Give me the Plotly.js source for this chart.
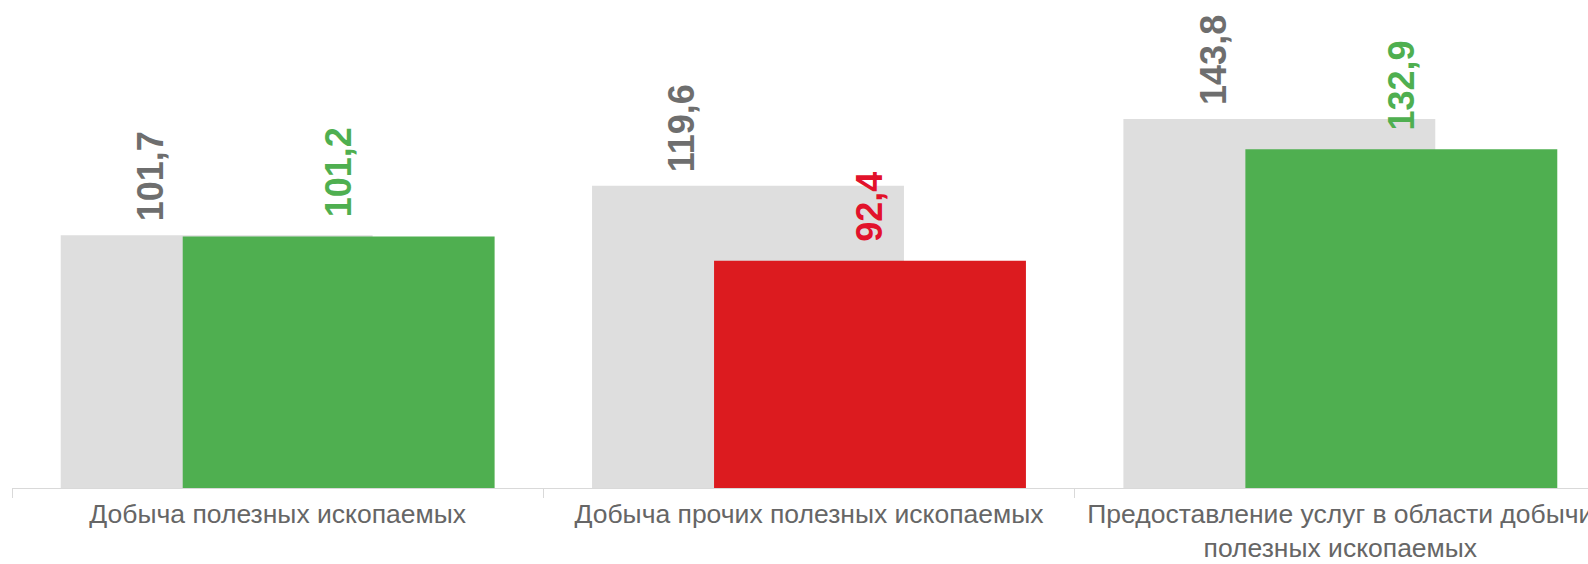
<!DOCTYPE html>
<html>
<head>
<meta charset="utf-8">
<script src="https://cdn.plot.ly/plotly-3.0.1.min.js"></script>
<style>
html,body{margin:0;padding:0;overflow:hidden;background:#fff;}
#chart{width:1620px;height:564px;}
</style>
</head>
<body>
<div id="chart"></div>
<script>
const categories = [
  "Добыча полезных ископаемых",
  "Добыча прочих полезных ископаемых",
  "Предоставление услуг в области добычи<br>полезных ископаемых"
];
const prevValues = [101.7, 119.6, 143.8];
const currValues = [101.2, 92.4, 132.9];

const GRAY_BAR = "#dedede";
const GRAY_TEXT = "#6e6e6e";
const GREEN = "#4faf50";
const RED = "#dc1b1f";
const RED_TEXT = "#e2122b";

const idx = categories.map((c, i) => i);
const barW = 0.587;
const shift = 0.1148;

const fmt = v => v.toFixed(1).replace('.', ',');
const currColor = v => v >= 100 ? GREEN : RED;
const currTextColor = v => v >= 100 ? GREEN : RED_TEXT;

const traces = [
  {
    type: 'bar', x: idx, y: prevValues,
    width: barW, offset: -shift - barW / 2,
    marker: {color: GRAY_BAR},
    hoverinfo: 'skip'
  },
  {
    type: 'bar', x: idx, y: currValues,
    width: barW, offset: shift - barW / 2,
    marker: {color: currValues.map(currColor)},
    hoverinfo: 'skip'
  }
];

const annotations = [];
prevValues.forEach((v, i) => {
  annotations.push({
    xref: 'x', yref: 'y', x: i - 0.24, y: v,
    text: fmt(v), textangle: -90, showarrow: false,
    xanchor: 'center', yanchor: 'bottom', yshift: 12,
    font: {family: 'Liberation Sans, Arial, sans-serif', size: 36, color: GRAY_TEXT, weight: 'bold'}
  });
});
currValues.forEach((v, i) => {
  annotations.push({
    xref: 'x', yref: 'y', x: i + shift, y: v,
    text: fmt(v), textangle: -90, showarrow: false,
    xanchor: 'center', yanchor: 'bottom', yshift: 17,
    font: {family: 'Liberation Sans, Arial, sans-serif', size: 36, color: currTextColor(v), weight: 'bold'}
  });
});

const layout = {
  width: 1620, height: 564,
  margin: {l: 12, r: 13.5, t: 0, b: 76},
  paper_bgcolor: '#fff', plot_bgcolor: '#fff',
  barmode: 'overlay',
  showlegend: false,
  xaxis: {
    type: 'linear',
    range: [-0.5, 2.5],
    tickmode: 'array', tickvals: idx, ticktext: categories,
    showline: true, linecolor: '#d9d9d9', linewidth: 1,
    showgrid: false, zeroline: false,
    ticks: '', ticklabelstandoff: 2,
    tickfont: {family: 'Liberation Sans, Arial, sans-serif', size: 26.5, color: '#666666'}
  },
  xaxis2: {
    overlaying: 'x', range: [-0.5, 2.5], tickmode: 'array',
    tickvals: [-0.5, 0.5, 1.5, 2.5], ticktext: ['', '', '', ''],
    ticks: 'outside', ticklen: 9, tickcolor: '#d9d9d9', tickwidth: 1,
    showgrid: false, zeroline: false, showline: false, anchor: 'y'
  },
  yaxis: {
    range: [10, 187], visible: false, showgrid: false, zeroline: false
  },
  annotations: annotations
};

traces.push({type: 'scatter', x: [0], y: [50], xaxis: 'x2', mode: 'markers', marker: {opacity: 0}, hoverinfo: 'skip'});

Plotly.newPlot('chart', traces, layout, {displayModeBar: false, staticPlot: true});
</script>
</body>
</html>
